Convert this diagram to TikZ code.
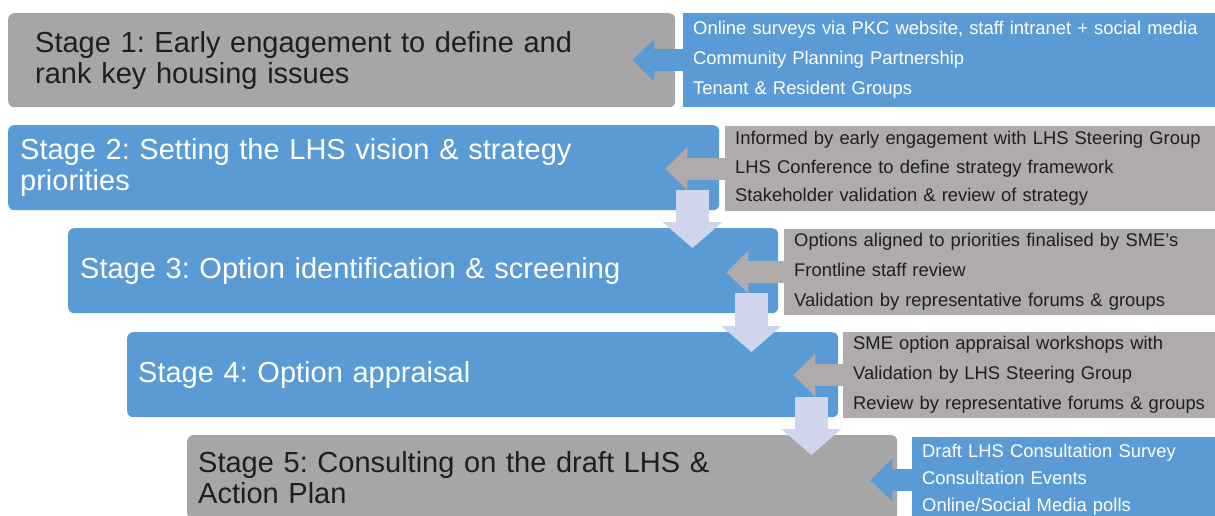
\documentclass[tikz,border=0pt]{standalone}
\usepackage{fontspec}
\setmainfont{Liberation Sans}
\usepackage{xcolor}
\usetikzlibrary{positioning, calc, arrows.meta}
\frenchspacing

\definecolor{stagegray}{RGB}{166,166,166}
\definecolor{infogray}{RGB}{175,171,171}
\definecolor{stageblue}{RGB}{91,155,213}
\definecolor{lavender}{RGB}{207,213,234}
\definecolor{darktext}{RGB}{30,30,30}

\tikzset{
  stagebox/.style={rounded corners=6pt, anchor=north west, align=left, inner ysep=0pt,
    minimum height=85pt, font=\fontsize{29}{31}\selectfont},
  infobox/.style={anchor=north west, align=left, inner xsep=10pt, inner ysep=0pt,
    text width=600pt, minimum height=86pt},
  sidearrow/.style={line width=22pt, -{Triangle[length=22pt, width=43pt, line width=0pt]}},
  downarrow/.style={draw=lavender, line width=33pt, -{Triangle[length=26pt, width=60pt, line width=0pt]}}
}

\begin{document}
\begin{tikzpicture}[x=1pt, y=-1pt]
  \useasboundingbox (0,0) rectangle (1215,516);

  % stages
  \node[stagebox, fill=stagegray, text=darktext, minimum height=94pt, inner xsep=27pt, text width=613pt] (s1) at (8,13)
    {Stage 1: Early engagement to define and\\rank key housing issues};
  \node[stagebox, fill=stageblue, text=white, inner xsep=12pt, text width=687pt] (s2) at (8,125)
    {Stage 2: Setting the LHS vision \& strategy\\priorities};
  \node[stagebox, fill=stageblue, text=white, inner xsep=12pt, text width=686pt] (s3) at (68,228)
    {Stage 3: Option identification \& screening};
  \node[stagebox, fill=stageblue, text=white, inner xsep=11pt, text width=689pt] (s4) at (127,332)
    {Stage 4: Option appraisal};
  \node[stagebox, fill=stagegray, text=darktext, minimum height=84pt, inner xsep=11pt, text width=688pt] (s5) at (187,435)
    {Stage 5: Consulting on the draft LHS \&\\Action Plan};

  % inputs
  \node[infobox, fill=stageblue, text=white, minimum height=94pt, font=\fontsize{18.4}{30}\selectfont] (d1) at (683,13)
    {Online surveys via PKC website, staff intranet + social media\\Community Planning Partnership\\Tenant \& Resident Groups};
  \node[infobox, fill=infogray, text=darktext, minimum height=85pt, font=\fontsize{18.4}{28.5}\selectfont] (d2) at (725,126)
    {Informed by early engagement with LHS Steering Group\\LHS Conference to define strategy framework\\Stakeholder validation \& review of strategy};
  \node[infobox, fill=infogray, text=darktext, font=\fontsize{18.4}{30}\selectfont] (d3) at (784,229)
    {Options aligned to priorities finalised by SME’s\\Frontline staff review\\Validation by representative forums \& groups};
  \node[infobox, fill=infogray, text=darktext, font=\fontsize{18.4}{30}\selectfont] (d4) at (843,332)
    {SME option appraisal workshops with\\Validation by LHS Steering Group\\Review by representative forums \& groups};
  \node[infobox, fill=stageblue, text=white, font=\fontsize{18.4}{27}\selectfont] (d5) at (912,437)
    {Draft LHS Consultation Survey\\Consultation Events\\Online/Social Media polls};

  % inputs feed each stage
  \draw[sidearrow, stageblue] (d1.west) -- ($(s1.east |- d1.west)+(-43,0)$);
  \draw[sidearrow, infogray] (d2.west) -- ($(s2.east |- d2.west)+(-54,0)$);
  \draw[sidearrow, infogray] (d3.west) -- ($(s3.east |- d3.west)+(-52,0)$);
  \draw[sidearrow, infogray] (d4.west) -- ($(s4.east |- d4.west)+(-45,0)$);
  \draw[sidearrow, stageblue] (d5.west) -- ($(s5.east |- d5.west)+(-27,0)$);

  % stage to stage
  \draw[downarrow] ($(s2.south east)+(-27,-20)$) -- ($(s2.south east |- s3.north)+(-27,20)$);
  \draw[downarrow] ($(s3.south east)+(-27,-20)$) -- ($(s3.south east |- s4.north)+(-27,20)$);
  \draw[downarrow] ($(s4.south east)+(-27,-20)$) -- ($(s4.south east |- s5.north)+(-27,20)$);
\end{tikzpicture}
\end{document}
